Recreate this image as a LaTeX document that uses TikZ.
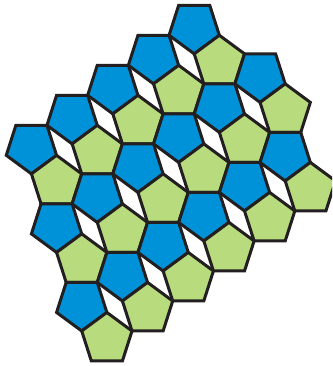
\documentclass[tikz,border=0pt]{standalone}
\usepackage{tikz}
\usetikzlibrary{calc}
\usepackage{xcolor}
\definecolor{pentblue}{HTML}{0092D8}
\definecolor{pentgreen}{HTML}{B7DB7D}
\definecolor{pentline}{HTML}{231F20}

\begin{document}
\begin{tikzpicture}[x=1pt, y=1pt,
    bluepent/.style={fill=pentblue, draw=pentline, line width=3pt},
    greenpent/.style={fill=pentgreen, draw=pentline, line width=3pt}]
    % Page frame
    \useasboundingbox (0,0) rectangle (332,-366);
    \clip (0,0) rectangle (332,-366);

    % Lattice of blue/green pairs, side length = 1
    \begin{scope}[shift={(194.2,-27.0)}, xscale=31.09, yscale=31.55]
        \foreach \i/\jmin/\jmax in {0/0/4, 1/0/5, 2/1/6}{
            \foreach \j in {\jmin,...,\jmax}{
                \pgfmathsetmacro\cx{2.11803*\i-1.30902*\j}
                \pgfmathsetmacro\cy{-1.53884*\i-0.95106*\j}
                % Blue pentagon, pointing down
                \draw[bluepent] (\cx,\cy) +(-90:0.85065) -- +(-18:0.85065)
                    -- +(54:0.85065) -- +(126:0.85065) -- +(198:0.85065) -- cycle;
                % Green pentagon, pointing up
                \draw[greenpent] ($(\cx,\cy)+(0.80902,-1.11352)$) +(90:0.85065)
                    -- +(18:0.85065) -- +(-54:0.85065) -- +(-126:0.85065)
                    -- +(162:0.85065) -- cycle;
            }
        }
    \end{scope}
\end{tikzpicture}
\end{document}
